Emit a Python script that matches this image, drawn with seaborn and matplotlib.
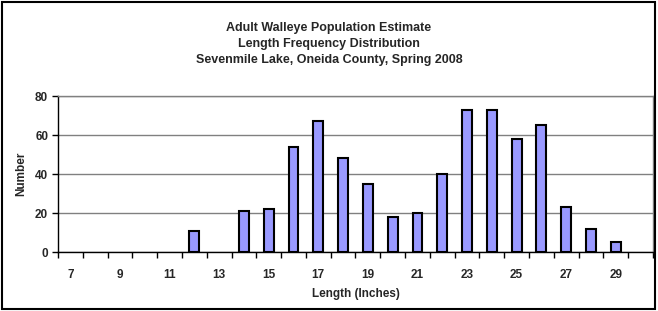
import matplotlib
matplotlib.use("Agg")
import matplotlib.pyplot as plt
import numpy as np
import pandas as pd
import seaborn as sns
from matplotlib.patches import Rectangle

# length classes (inches) and fish counts
lengths = list(range(7, 31))
counts = [0, 0, 0, 0, 0, 11, 0, 21, 22, 54, 67, 48, 35, 18, 20, 40,
          73, 73, 58, 65, 23, 12, 5, 0]
tick_labels = [str(v) if v % 2 == 1 else "" for v in lengths]

title = ("Adult Walleye Population Estimate\n"
         "Length Frequency Distribution\n"
         "Sevenmile Lake, Oneida County, Spring 2008")

sns.set_style("white")
plt.rcParams["font.family"] = ["Liberation Sans", "DejaVu Sans"]
plt.rcParams["font.weight"] = "bold"

df = pd.DataFrame({"length": lengths, "count": counts})

fig = plt.figure(figsize=(6.58, 3.11), dpi=100)
ax = fig.add_axes([0.0881, 0.1897, 0.9043, 0.5016])

sns.barplot(data=df, x="length", y="count", order=lengths, color="#9999FF",
            saturation=1, width=0.4, edgecolor="black", linewidth=1.5, ax=ax)

# empty classes draw nothing
for bar in ax.patches:
    if bar.get_height() == 0:
        bar.set_visible(False)

ax.set_ylim(0, 80)
ax.set_xlim(-0.5, len(lengths) - 0.5)
ax.set_yticks([0, 20, 40, 60, 80])
ax.yaxis.grid(True, color="#808080", linewidth=1)
ax.set_axisbelow(True)

ax.set_xticks(range(len(lengths)))
ax.set_xticklabels(tick_labels)
ax.set_xticks(np.arange(-0.5, len(lengths), 1), minor=True)
ax.tick_params(axis="x", which="major", length=0, pad=12, labelsize=8.5)
ax.tick_params(axis="x", which="minor", length=4, width=1, direction="out",
               color="black", bottom=True)
ax.tick_params(axis="y", length=4, width=1, direction="out", color="black",
               left=True, labelsize=8.5, pad=3)

for side in ["left", "bottom"]:
    ax.spines[side].set_color("black")
    ax.spines[side].set_linewidth(1)
for side in ["top", "right"]:
    ax.spines[side].set_color("#808080")
    ax.spines[side].set_linewidth(1)

ax.set_xlabel("Length (Inches)", fontsize=8.5, fontweight="bold", labelpad=5)
ax.set_ylabel("Number", fontsize=8.5, fontweight="bold", labelpad=6)

fig.text(0.5, 0.93, title, ha="center", va="top", fontsize=9,
         fontweight="bold", linespacing=1.45)

fig.patches.append(Rectangle((0.003, 0.005), 0.993, 0.99, transform=fig.transFigure,
                             fill=False, edgecolor="black", linewidth=1.5))

fig.savefig("out.png", dpi=100)
